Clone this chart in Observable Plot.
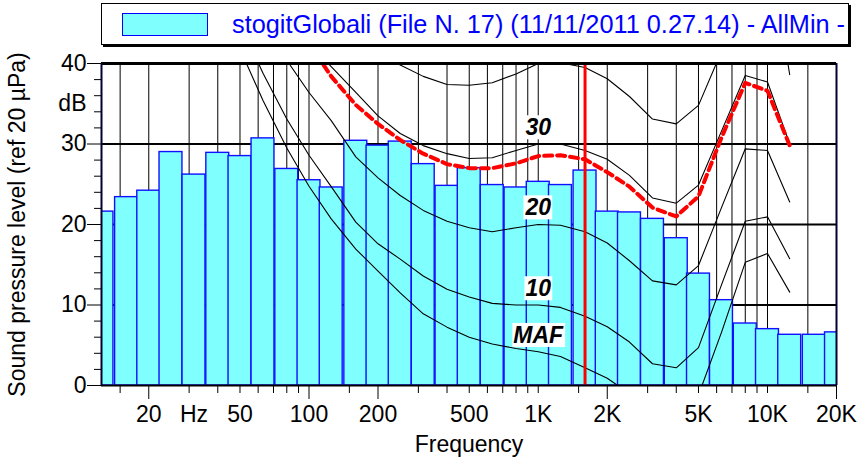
<!DOCTYPE html>
<html><head><meta charset="utf-8">
<script src="https://cdn.jsdelivr.net/npm/d3@7"></script>
<script src="https://cdn.jsdelivr.net/npm/@observablehq/plot@0.6"></script>
<style>
body{margin:0;background:#fff;}
#wrap{position:relative;width:858px;height:457px;font-family:"Liberation Sans",Arial,sans-serif;}
#legend{position:absolute;left:101px;top:3px;width:746px;height:40px;border:1px solid #000;box-shadow:2px 2px 0 #000;background:#fff;}
#sw{position:absolute;left:20px;top:9px;width:84px;height:21px;background:#80ffff;border:1px solid #0000ff;}
#lt{position:absolute;left:130px;top:0;line-height:40px;font-size:25.3px;color:#0000ff;white-space:nowrap;}
</style></head><body>
<div id="wrap"><div id="chart"></div><div id="legend"><div id="sw"></div><div id="lt"></div></div></div>
<script>
// ---- data ----
const legendText = "stogitGlobali (File N. 17) (11/11/2011 0.27.14) - AllMin -";
const bandFreqs = [12.5,16,20,25,31.5,40,50,63,80,100,125,160,200,250,315,400,500,630,800,1000,1250,1600,2000,2500,3150,4000,5000,6300,8000,10000,12500,16000,20000];
const bandLevels = [21.6,23.4,24.2,29.0,26.2,28.9,28.5,30.7,26.9,25.5,24.6,30.4,29.8,30.3,27.5,24.8,27.0,24.9,24.6,25.3,24.9,26.7,21.6,21.5,20.7,18.3,13.9,10.6,7.7,7.0,6.3,6.3,6.6];

const contourFreqs = [50,63,80,100,125,160,200,250,315,400,500,630,800,1000,1250,1600,2000,2500,3150,4000,5000,6300,8000,10000,12500];
const mafLevels   = [41.8,35.4,29.5,24.75,20.7,16.95,14.2,11.5,8.9,7.25,6.0,5.15,4.6,4.2,3.6,2.2,0.9,-1.0,-3.5,-3.9,-1.2,6.6,15.3,16.4,11.6];
const phon10Levels = [45,38.8,33.1,28.6,24.7,20.3,17.6,15.7,13.6,11.95,11.0,10.2,10.0,10.0,9.7,8.6,7.3,5.4,2.7,2.2,4.7,12.5,20.4,20.95,15.75];
const phon20Levels = [null,44.6,40.4,36.4,32.9,28.4,25.8,23.6,21.75,20.4,19.6,19.1,19.6,20.0,19.9,19.1,17.7,15.5,13.0,12.5,14.9,22.1,29.4,29.2,22.8];
const phon30Levels = [null,null,null,42.5,39.6,36.4,33.5,31.3,29.8,28.8,28.2,28.3,29.2,30.0,30.0,29.2,28.1,26.1,23.3,22.65,24.9,31.6,38.5,37.7,30.0];
const phon40Levels = [null,null,null,null,null,null,41.5,39.8,38.4,37.4,37.3,37.6,38.7,40.0,40.1,39.5,38.1,35.9,33.1,32.5,34.8,41.5,50,55.9,38.6];
const redLevels    = [null,null,null,42.5,38.4,34.85,32.5,30.5,28.8,27.5,27.0,27.0,27.6,28.5,28.6,28.1,26.5,24.7,22.1,21.0,23.5,30.8,37.6,36.6,29.8];

const markerFreq = [1600];
const contourLabels = ["30","20","10","MAF"];
const contourLabelFreq = [1000,1000,1000,1000];
const contourLabelLevel = [32.0,22.05,12.0,6.2];

const gridFreqs = [15,20,30,40,50,60,70,80,90,100,150,200,300,400,500,600,700,800,900,1000,1500,2000,3000,4000,5000,6000,7000,8000,9000,10000,15000,20000];
const longTickFreqs = [20,100,200,2000,20000];
const labelFreqs = [20,31.5,50,100,200,500,1000,2000,5000,10000,20000];
const labelTexts = ["20","Hz","50","100","200","500","1K","2K","5K","10K","20K"];
const yMajor = [0,10,20,30,40];
const yMinor = [2,4,6,8,12,14,16,18,22,24,26,28,32,34,36,38];
const yGrid = [10,20,30];

// ---- build tables ----
const half = Math.pow(10, 0.05);
const bands = bandFreqs.map((f,i)=>({lo:f/half, hi:f*half, v:bandLevels[i]}));
const series = (arr)=>contourFreqs.map((f,i)=>({f, v:arr[i]}));
const xLabels = labelFreqs.map((f,i)=>({f, t:labelTexts[i]}));
const clabels = contourLabels.map((t,i)=>({t, f:contourLabelFreq[i], v:contourLabelLevel[i]}));
const lineOpts = {x:"f", y:"v", stroke:"#000", strokeWidth:1.1, clip:true, curve:"linear"};

document.getElementById("lt").textContent = legendText;

const chart = Plot.plot({
  width: 858, height: 457,
  marginLeft: 101, marginRight: 22, marginTop: 63, marginBottom: 72,
  style: {fontFamily: "Liberation Sans, Arial, sans-serif", fontSize: "23px", background: "#fff", color: "#000"},
  x: {type: "log", domain: [12.44, 20000], axis: null, label: null},
  y: {domain: [0, 40], axis: null, label: null},
  marks: [
    Plot.ruleX(gridFreqs, {stroke: "#000", strokeWidth: 1}),
    Plot.ruleY(yGrid, {stroke: "#000", strokeWidth: 2}),
    Plot.rect(bands, {x1: "lo", x2: "hi", y1: 0, y2: "v", fill: "#80ffff", stroke: "#1010ff", strokeWidth: 1.4, clip: true}),
    Plot.line(series(mafLevels), lineOpts),
    Plot.line(series(phon10Levels), lineOpts),
    Plot.line(series(phon20Levels), lineOpts),
    Plot.line(series(phon30Levels), lineOpts),
    Plot.line(series(phon40Levels), lineOpts),
    Plot.line(series(redLevels), {x:"f", y:"v", stroke:"#ff0000", strokeWidth:4, strokeDasharray:"8,5", clip:true}),
    Plot.ruleX(markerFreq, {stroke: "#ff0000", strokeWidth: 3}),
    Plot.text(clabels, {x:"f", y:"v", text:"t", fontWeight:"bold", fontStyle:"italic", fontSize: 23, fill:"#000"}),
    Plot.ruleY([40], {stroke: "#000", strokeWidth: 3}),
    Plot.ruleY([0], {stroke: "#000", strokeWidth: 2}),
    Plot.ruleX([12.44, 20000], {stroke: "#000033", strokeWidth: 2}),
    Plot.axisY(yMajor, {tickSize: 14, tickPadding: 1, tickFormat: d => String(d), label: null}),
    Plot.axisY(yMinor, {tickSize: 7, tickFormat: () => "", label: null}),
    Plot.axisY([35], {tickSize: 0, tickPadding: 15, tickFormat: () => "dB", label: null}),
    Plot.axisX(gridFreqs.filter(f => !longTickFreqs.includes(f)), {tickSize: 8, tickFormat: () => "", label: null}),
    Plot.axisX(longTickFreqs, {tickSize: 14, tickFormat: () => "", label: null}),
    Plot.text(xLabels, {x: "f", text: "t", frameAnchor: "bottom", dy: 20, lineAnchor: "top", fontSize: 23}),
    Plot.text(["Frequency"], {frameAnchor: "bottom", dy: 59, lineAnchor: "middle", fontSize: 23}),
    Plot.text(["Sound pressure level (ref 20 µPa)"], {frameAnchor: "left", textAnchor: "middle", lineAnchor: "middle", rotate: -90, dx: -84, fontSize: 23})
  ]
});
document.getElementById("chart").append(chart);

// white boxes behind the contour labels
d3.select(chart).selectAll('g[font-style="italic"] text').each(function(){
  const b = this.getBBox();
  const r = document.createElementNS("http://www.w3.org/2000/svg","rect");
  r.setAttribute("x", b.x - 1); r.setAttribute("y", b.y + 1);
  r.setAttribute("width", b.width + 2); r.setAttribute("height", b.height - 2);
  r.setAttribute("fill", "#fff");
  const tr = this.getAttribute("transform"); if (tr) r.setAttribute("transform", tr);
  this.parentNode.insertBefore(r, this);
});
</script></body></html>
